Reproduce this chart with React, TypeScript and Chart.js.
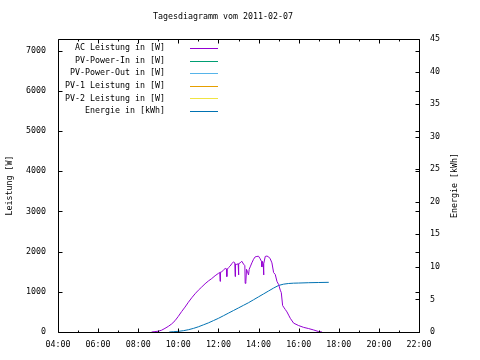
import React, { useEffect, useRef } from "react";
import { Chart, registerables } from "chart.js";

Chart.register(...registerables);

const TITLE = "Tagesdiagramm vom 2011-02-07";
const Y_TITLE = "Leistung [W]";
const Y2_TITLE = "Energie [kWh]";

const X_TICKS = [4, 6, 8, 10, 12, 14, 16, 18, 20, 22];
const X_MINOR = [5, 7, 9, 11, 13, 15, 17, 19, 21];
const Y_TICKS = [0, 1000, 2000, 3000, 4000, 5000, 6000, 7000];
const Y2_TICKS = [0, 5, 10, 15, 20, 25, 30, 35, 40, 45];

const SERIES_LABELS = [
  "AC Leistung in [W]",
  "PV-Power-In in [W]",
  "PV-Power-Out in [W]",
  "PV-1 Leistung in [W]",
  "PV-2 Leistung in [W]",
  "Energie in [kWh]",
];
const SERIES_COLORS = ["#9400d3", "#009e73", "#56b4e9", "#e69f00", "#f0e442", "#0072b2"];

const AC_TIMES = [
  "08:40", "08:50", "09:00", "09:10", "09:20", "09:30", "09:40", "09:50",
  "10:00", "10:10", "10:20", "10:30", "10:40", "10:50", "11:00", "11:10",
  "11:20", "11:30", "11:40", "11:50", "12:00", "12:04", "12:05", "12:06",
  "12:10", "12:15", "12:20", "12:24", "12:25", "12:26", "12:30", "12:35",
  "12:40", "12:45", "12:49", "12:50", "12:51", "12:55", "12:59", "13:00",
  "13:01", "13:05", "13:10", "13:15", "13:19", "13:20", "13:22", "13:24",
  "13:27", "13:30", "13:32", "13:35", "13:40", "13:45", "13:50", "13:55",
  "14:00", "14:05", "14:09", "14:10", "14:11", "14:14", "14:15", "14:16",
  "14:20", "14:25", "14:30", "14:35", "14:40", "14:45", "14:50", "14:55",
  "15:00", "15:05", "15:08", "15:12", "15:15", "15:20", "15:25", "15:30",
  "15:35", "15:45", "16:00", "16:15", "16:30", "16:45", "17:00", "17:10",
];
const AC_WATTS = [
  0, 10, 20, 45, 90, 140, 200, 280,
  390, 510, 620, 740, 850, 950, 1040, 1120,
  1200, 1270, 1330, 1400, 1460, 1480, 1260, 1490,
  1500, 1540, 1580, 1570, 1380, 1560, 1600, 1640,
  1700, 1745, 1720, 1380, 1690, 1680, 1700, 1420,
  1700, 1720, 1760, 1690, 1650, 1210, 1250, 1560,
  1500, 1420, 1560, 1620, 1720, 1810, 1870, 1880,
  1885, 1820, 1750, 1620, 1760, 1700, 1420, 1700,
  1880, 1890, 1870, 1820, 1720, 1480, 1430, 1260,
  1180, 1040, 980, 660, 620, 560, 500, 420,
  340, 220, 160, 115, 85, 50, 10, 0,
];

const ENERGY_TIMES = [
  "09:33", "09:45", "10:00", "10:15", "10:30", "10:45", "11:00", "11:15",
  "11:30", "11:45", "12:00", "12:15", "12:30", "12:45", "13:00", "13:15",
  "13:30", "13:45", "14:00", "14:15", "14:30", "14:45", "15:00", "15:15",
  "15:30", "15:45", "16:00", "16:30", "17:00", "17:30",
];
const ENERGY_KWH = [
  0, 0.05, 0.1, 0.2, 0.35, 0.55, 0.8, 1.1,
  1.4, 1.75, 2.1, 2.5, 2.9, 3.3, 3.7, 4.1,
  4.5, 4.95, 5.4, 5.85, 6.3, 6.75, 7.15, 7.35,
  7.45, 7.5, 7.52, 7.57, 7.6, 7.63,
];

const FONT_FAMILY = "'DejaVu Sans Mono', monospace";
const FONT_SIZE = 8.3;
const FONT = `${FONT_SIZE}px ${FONT_FAMILY}`;

const toHours = (t: string) => {
  const [h, m] = t.split(":").map(Number);
  return h + m / 60;
};
const fmtHour = (v: number) => `${String(v).padStart(2, "0")}:00`;

const gnuplotDecor = {
  id: "gnuplotDecor",
  afterDraw(chart: any) {
    const { ctx, chartArea, scales } = chart;
    const L = Math.round(chartArea.left) + 0.5;
    const R = Math.round(chartArea.right) + 0.5;
    const T = Math.round(chartArea.top) + 0.5;
    const B = Math.round(chartArea.bottom) + 0.5;
    ctx.save();
    ctx.strokeStyle = "#000";
    ctx.lineWidth = 1;
    ctx.beginPath();
    ctx.rect(L, T, R - L, B - T);
    const major = 4;
    const minor = 2;
    X_TICKS.forEach((v) => {
      const x = Math.round(scales.x.getPixelForValue(v)) + 0.5;
      ctx.moveTo(x, B); ctx.lineTo(x, B - major);
      ctx.moveTo(x, T); ctx.lineTo(x, T + major);
    });
    X_MINOR.forEach((v) => {
      const x = Math.round(scales.x.getPixelForValue(v)) + 0.5;
      ctx.moveTo(x, B); ctx.lineTo(x, B - minor);
      ctx.moveTo(x, T); ctx.lineTo(x, T + minor);
    });
    Y_TICKS.forEach((v) => {
      const y = Math.round(scales.y.getPixelForValue(v)) + 0.5;
      ctx.moveTo(L, y); ctx.lineTo(L + major, y);
      ctx.moveTo(R, y); ctx.lineTo(R - major, y);
    });
    Y2_TICKS.forEach((v) => {
      const y = Math.round(scales.y2.getPixelForValue(v)) + 0.5;
      ctx.moveTo(R, y); ctx.lineTo(R - major, y);
    });
    ctx.stroke();

    ctx.fillStyle = "#000";
    ctx.font = FONT;
    ctx.textBaseline = "middle";
    ctx.textAlign = "center";
    ctx.fillText(TITLE, 223, 17);
    ctx.save();
    ctx.translate(455, (chartArea.top + chartArea.bottom) / 2);
    ctx.rotate(-Math.PI / 2);
    ctx.fillText(Y2_TITLE, 0, 0);
    ctx.restore();
    chart.data.datasets.forEach((ds: any, i: number) => {
      const y = 48 + i * 12.6;
      ctx.textAlign = "right";
      ctx.fillStyle = "#000";
      ctx.fillText(ds.label, 165, y);
      ctx.strokeStyle = ds.borderColor;
      ctx.beginPath();
      const ly = Math.round(y) + 0.5;
      ctx.moveTo(190, ly);
      ctx.lineTo(218, ly);
      ctx.stroke();
    });
    ctx.restore();
  },
};

export default function App() {
  const ref = useRef<HTMLCanvasElement | null>(null);
  useEffect(() => {
    if (!ref.current) return;
    const acData = AC_TIMES.map((t, i) => ({ x: toHours(t), y: AC_WATTS[i] }));
    const enData = ENERGY_TIMES.map((t, i) => ({ x: toHours(t), y: ENERGY_KWH[i] }));
    const datasets = SERIES_LABELS.map((label, i) => ({
      label,
      data: i === 0 ? acData : i === 5 ? enData : [],
      borderColor: SERIES_COLORS[i],
      backgroundColor: SERIES_COLORS[i],
      borderWidth: 1,
      pointRadius: 0,
      tension: 0,
      fill: false,
      yAxisID: i === 5 ? "y2" : "y",
    }));
    const tickFont = { family: FONT_FAMILY, size: FONT_SIZE };
    const chart = new Chart(ref.current, {
      type: "line",
      data: { datasets },
      options: {
        animation: false,
        responsive: false,
        devicePixelRatio: 1,
        layout: { padding: { top: 39, left: 0, right: 0, bottom: 0 } },
        plugins: { legend: { display: false }, tooltip: { enabled: false }, title: { display: false } },
        scales: {
          x: {
            type: "linear",
            position: "bottom",
            min: 4,
            max: 22,
            afterBuildTicks: (s: any) => { s.ticks = X_TICKS.map((v) => ({ value: v })); },
            afterFit: (s: any) => { s.height = 28; },
            ticks: {
              callback: (v: any) => fmtHour(Number(v)),
              font: tickFont,
              color: "#000",
              padding: 8,
              maxRotation: 0,
              autoSkip: false,
            },
            grid: { display: false, drawTicks: false },
            border: { display: false },
          },
          y: {
            type: "linear",
            position: "left",
            min: 0,
            max: 7290,
            afterBuildTicks: (s: any) => { s.ticks = Y_TICKS.map((v) => ({ value: v })); },
            afterFit: (s: any) => { s.width = 58; },
            ticks: { font: tickFont, color: "#000", padding: 12, callback: (v: any) => String(v) },
            grid: { display: false, drawTicks: false },
            border: { display: false },
            title: { display: true, text: Y_TITLE, font: tickFont, color: "#000", padding: { top: 5, bottom: 0 } },
          },
          y2: {
            type: "linear",
            position: "right",
            min: 0,
            max: 45,
            afterBuildTicks: (s: any) => { s.ticks = Y2_TICKS.map((v) => ({ value: v })); },
            afterFit: (s: any) => { s.width = 61; },
            ticks: { font: tickFont, color: "#000", padding: 11, callback: (v: any) => String(v) },
            grid: { display: false, drawTicks: false },
            border: { display: false },
          },
        },
      },
      plugins: [gnuplotDecor],
    } as any);
    return () => chart.destroy();
  }, []);
  return (
    <div style={{ position: "absolute", left: 0, top: 0, width: 480, height: 360, background: "#fff" }}>
      <canvas ref={ref} width={480} height={360} style={{ display: "block" }} />
    </div>
  );
}
